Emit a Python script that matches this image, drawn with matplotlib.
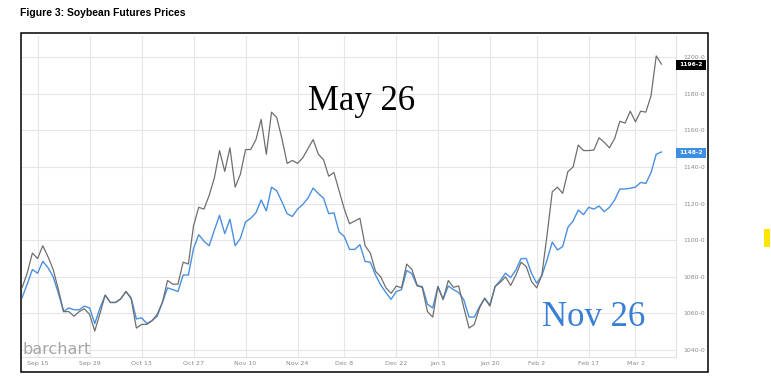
import matplotlib
matplotlib.use("Agg")
import matplotlib.pyplot as plt
from matplotlib.patches import Rectangle
import numpy as np
import pandas as pd

# ---- data ----
holidays = ["2025-11-27", "2025-12-25", "2026-01-01", "2026-01-19", "2026-02-16"]
dates = pd.bdate_range("2025-09-10", "2026-03-09", freq="C", holidays=holidays)

may26 = [
    1074, 1082, 1093, 1090, 1097, 1091, 1084, 1073, 1061, 1061,
    1058.5, 1061, 1062.5, 1059.5, 1050.4, 1060, 1070, 1066, 1066, 1068,
    1072, 1068, 1052, 1054, 1054, 1056, 1059.5, 1066, 1078, 1076,
    1076, 1088, 1087, 1108, 1118, 1117, 1124.5, 1134, 1149, 1137.6,
    1150.5, 1129, 1136, 1149.5, 1149.6, 1155, 1166, 1147, 1170, 1167,
    1155.5, 1142, 1143.6, 1142, 1145, 1150, 1155, 1147, 1144, 1135,
    1137, 1127, 1117, 1109, 1110.5, 1112, 1097, 1093, 1083, 1080,
    1074, 1071, 1075, 1074, 1087, 1084, 1075.6, 1074, 1061, 1058,
    1074.7, 1067.7, 1078, 1074.3, 1075, 1063, 1052, 1054, 1063, 1068.3,
    1064, 1074.7, 1077, 1080, 1075.3, 1081, 1088, 1085.6, 1077.5, 1074,
    1081, 1103, 1126.5, 1129, 1125.6, 1137.5, 1140, 1152, 1149, 1149,
    1149.3, 1156, 1153.5, 1150.5, 1155.6, 1165, 1164, 1170.5, 1164.7, 1170.5,
    1170, 1179, 1200.7, 1196.25,
]
nov26 = [
    1068.5, 1076, 1084, 1082, 1088.5, 1085, 1080, 1071, 1061, 1063,
    1062, 1062, 1064, 1063, 1054.5, 1063, 1070, 1066, 1066, 1068,
    1072, 1068.5, 1057, 1057.6, 1054.5, 1056, 1058.5, 1066, 1074, 1073,
    1072, 1081, 1081, 1095.5, 1103, 1099.5, 1097, 1105.5, 1113.6, 1103.6,
    1111.5, 1097, 1101, 1110, 1112, 1115, 1122, 1116, 1129, 1127,
    1121, 1114.5, 1113, 1117, 1119.5, 1123, 1128.5, 1125.5, 1123, 1114.5,
    1115, 1104.5, 1102, 1095, 1095, 1097.6, 1088.4, 1088, 1081, 1075.6,
    1071.4, 1067.7, 1072, 1073, 1083.5, 1081.7, 1075, 1074.7, 1065, 1063,
    1074.7, 1067.7, 1075, 1073, 1071.4, 1067.4, 1058, 1058, 1063.7, 1068.3,
    1064.6, 1074.7, 1078, 1082, 1079.6, 1083.8, 1090, 1090, 1082, 1076.5,
    1080.7, 1089.3, 1099, 1094.7, 1096.5, 1107, 1110.5, 1116.5, 1114, 1118,
    1117, 1118.7, 1115.6, 1118, 1122, 1128, 1128, 1128.4, 1129, 1131.6,
    1131, 1137, 1147, 1148.25,
]
tick_dates = ["2025-09-15", "2025-09-29", "2025-10-13", "2025-10-27", "2025-11-10",
              "2025-11-24", "2025-12-08", "2025-12-22", "2026-01-05", "2026-01-20",
              "2026-02-02", "2026-02-17", "2026-03-02"]
tick_labels = ["Sep 15", "Sep 29", "Oct 13", "Oct 27", "Nov 10", "Nov 24", "Dec 8",
               "Dec 22", "Jan 5", "Jan 20", "Feb 2", "Feb 17", "Mar 2"]
y_ticks = [1040, 1060, 1080, 1100, 1120, 1140, 1160, 1180, 1200]
last_labels = ["1196-2", "1148-2"]

# ---- figure ----
W, H = 771, 379
fig = plt.figure(figsize=(W / 100, H / 100), dpi=100)

def fx(px):
    return px / W

def fy(py):
    return 1 - py / H

ax = fig.add_axes([fx(22), fy(357), fx(676) - fx(22), fy(36) - fy(357)])
x = np.arange(len(dates))
ax.plot(x, nov26, color="#4a90e2", lw=1.0, zorder=3)
ax.plot(x, may26, color="#6f6f6f", lw=0.9, zorder=4)

ax.set_xlim(0, 125.8)
ax.set_ylim(1036.2, 1211.6)

pos = [dates.get_loc(pd.Timestamp(d)) for d in tick_dates]
ax.set_xticks(pos)
ax.set_xticklabels(tick_labels, fontsize=4.5, color="#8a8a8a")
ax.set_yticks(y_ticks)
ax.set_yticklabels([f"{v}-0" for v in y_ticks], fontsize=4.5, color="#8a8a8a")
ax.yaxis.tick_right()
ax.tick_params(axis="both", length=0)
ax.tick_params(axis="x", pad=3)
ax.tick_params(axis="y", pad=5)
ax.grid(True, color="#e6e6e6", lw=0.8)
ax.set_axisbelow(True)
for s in ["left", "top"]:
    ax.spines[s].set_visible(False)
for s in ["bottom", "right"]:
    ax.spines[s].set_color("#e0e0e0")
    ax.spines[s].set_linewidth(0.8)

# outer frame
fig.patches.append(Rectangle((fx(21), fy(372)), fx(708) - fx(21), fy(33) - fy(372),
                             transform=fig.transFigure, fill=False, ec="black", lw=1.1,
                             zorder=10))

# title
fig.text(fx(20), fy(13), "Figure 3: Soybean Futures Prices",
         family=["Liberation Sans Narrow", "Liberation Sans", "DejaVu Sans"],
         fontweight="bold", fontsize=7.5, va="center", ha="left")

# watermark
fig.text(fx(22), fy(354), "barchart", fontsize=11.5, color="#a6a6a6",
         fontweight="medium", va="baseline", ha="left")

# annotations
fig.text(fx(362), fy(101), "May 26", family=["Liberation Serif", "DejaVu Serif"],
         fontsize=25, color="black", ha="center", va="center")
fig.text(fx(594), fy(318), "Nov 26", family=["Liberation Serif", "DejaVu Serif"],
         fontsize=25, color="#3a7fd6", ha="center", va="center")

# last-value boxes
for (yc, col, lab) in [(65, "black", last_labels[0]), (153, "#3d8fe3", last_labels[1])]:
    fig.patches.append(Rectangle((fx(676), fy(yc + 5)), fx(706) - fx(676), fy(yc - 5) - fy(yc + 5),
                                 transform=fig.transFigure, fc=col, ec="none", zorder=5))
    fig.text(fx(691), fy(yc), lab, fontsize=4.3, color="white", fontweight="bold",
             ha="center", va="center", zorder=6)

# yellow marker
fig.patches.append(Rectangle((fx(764), fy(247)), fx(770) - fx(764), fy(229) - fy(247),
                             transform=fig.transFigure, fc="#ffe600", ec="none"))

fig.savefig("out.png", dpi=100)
